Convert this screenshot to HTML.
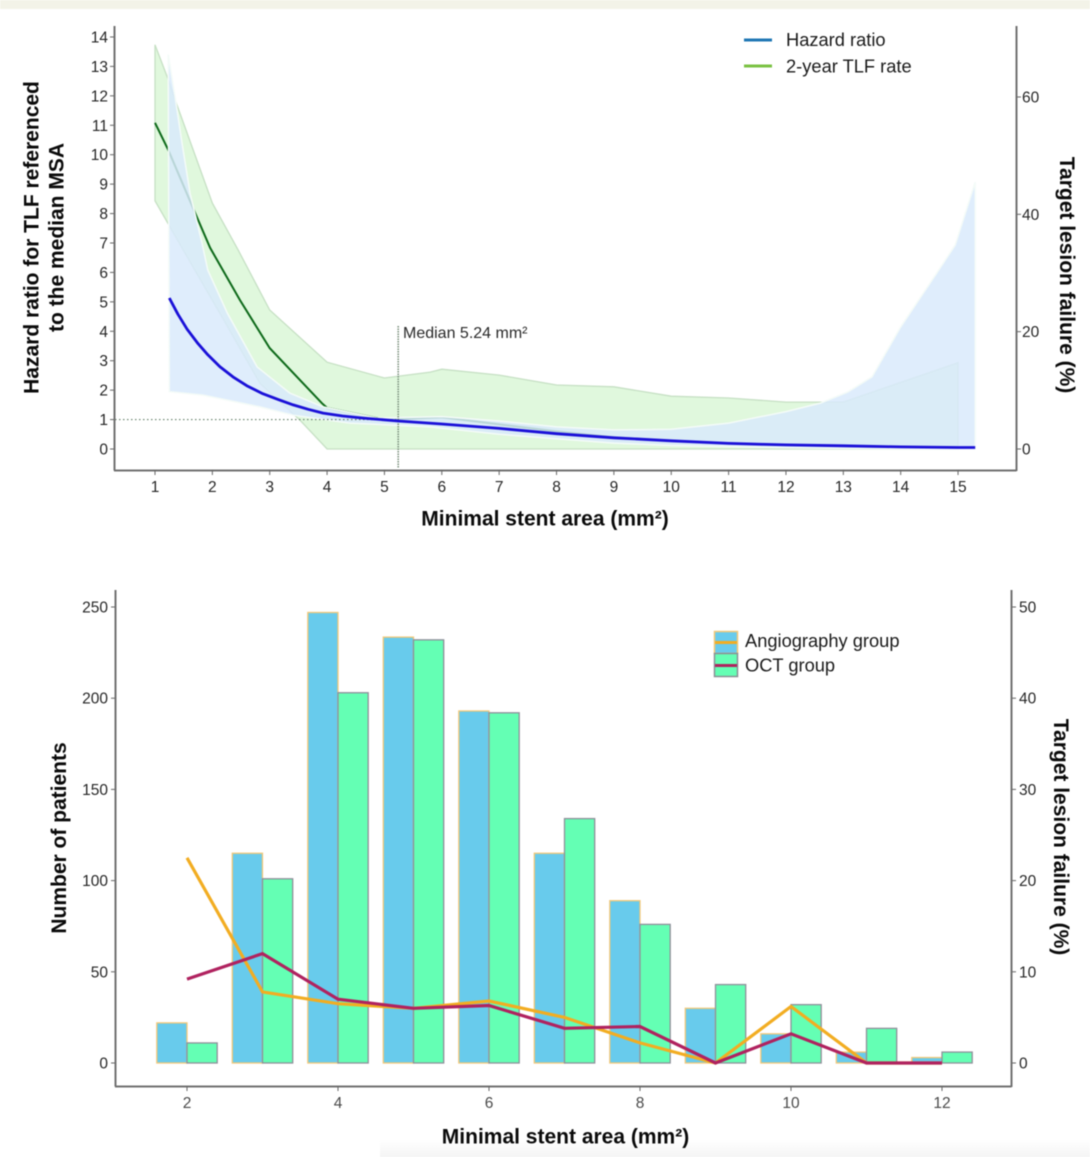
<!DOCTYPE html>
<html lang="en">
<head>
<meta charset="utf-8">
<title>Minimal stent area charts</title>
<style>
html,body{margin:0;padding:0;background:#fff;}
body{width:1090px;height:1157px;overflow:hidden;position:relative;font-family:"Liberation Sans",sans-serif;}
svg{position:absolute;left:0;top:0;filter:blur(0.4px);}
text{font-family:"Liberation Sans",sans-serif;}
.title{font-weight:700;font-size:21px;fill:#0a0a0a;text-anchor:middle;}
.tick{font-size:15.5px;fill:#262626;}
.legend{font-size:18.3px;fill:#1a1a1a;}
</style>
</head>
<body>
<svg id="fig" width="1090" height="1157" viewBox="0 0 1090 1157" xmlns="http://www.w3.org/2000/svg">
  <defs>
    <linearGradient id="fade" x1="0" y1="0" x2="0" y2="1">
      <stop offset="0" stop-color="#f4f4f4" stop-opacity="0"/>
      <stop offset="1" stop-color="#f4f4f4" stop-opacity="1"/>
    </linearGradient>
  </defs>
  <rect x="0" y="0" width="1090" height="9" fill="#f3f3e8"/>
  <rect x="380" y="1140" width="710" height="17" fill="url(#fade)"/>

  <g id="top-marks"></g>
  <g id="top-axes">
    <path d="M114.500 26V470.500" stroke="#707070" stroke-width="2" fill="none"/>
    <path d="M114 470.500H1016.500" stroke="#707070" stroke-width="2" fill="none"/>
    <path d="M1016.500 26V471" stroke="#707070" stroke-width="2" fill="none"/>
  </g>
  <text class="title" transform="translate(38.500,237.500) rotate(-90)">Hazard ratio for TLF referenced</text>
  <text class="title" transform="translate(63.500,237.500) rotate(-90)">to the median MSA</text>
  <text class="title" transform="translate(1060,275) rotate(90)">Target lesion failure (%)</text>
  <text class="title" x="545" y="525.500">Minimal stent area (mm²)</text>
  <text x="403" y="338" font-size="16" fill="#2a2a2a">Median 5.24 mm²</text>
  <path d="M744 40H772" stroke="#1f77b4" stroke-width="3"/>
  <text class="legend" x="786" y="46">Hazard ratio</text>
  <path d="M744 66H772" stroke="#7ac143" stroke-width="3"/>
  <text class="legend" x="786" y="72.500">2-year TLF rate</text>

  <g id="bottom-marks"></g>
  <g id="bottom-axes">
    <path d="M115.500 590V1086.500" stroke="#707070" stroke-width="2" fill="none"/>
    <path d="M115 1086.500H1011.500" stroke="#707070" stroke-width="2" fill="none"/>
    <path d="M1011.500 590V1087" stroke="#707070" stroke-width="2" fill="none"/>
  </g>
  <text class="title" transform="translate(66,838) rotate(-90)">Number of patients</text>
  <text class="title" transform="translate(1054,837) rotate(90)">Target lesion failure (%)</text>
  <text class="title" x="565.500" y="1143.500">Minimal stent area (mm²)</text>
  <rect x="714.500" y="631.500" width="23" height="22" fill="#68cbec" stroke="#f2c879" stroke-width="1.500"/>
  <path d="M715 642.500H737" stroke="#f2ad22" stroke-width="3"/>
  <rect x="714.500" y="653.500" width="23" height="23" fill="#64ffb4" stroke="#8a8f95" stroke-width="1.500"/>
  <path d="M715 665.500H737" stroke="#b0225f" stroke-width="3"/>
  <text class="legend" x="745" y="647">Angiography group</text>
  <text class="legend" x="745" y="671.500">OCT group</text>
</svg>

<script>
// ---- top chart data ----
const topXTicks = [1,2,3,4,5,6,7,8,9,10,11,12,13,14,15];
const hrTicks = [0,1,2,3,4,5,6,7,8,9,10,11,12,13,14];
const tlfTicks = [0,20,40,60];
const medianMsa = 5.24;
const referenceHr = 1;

const hrX = [1.25,1.4,1.56,1.75,1.92,2.13,2.36,2.6,2.88,3.15,3.41,3.67,3.93,4.27,4.63,5.24,6,7,8,9,10,11,12,13,14,15,15.3];
const hrMid = [5.13,4.58,4.07,3.58,3.2,2.8,2.45,2.15,1.88,1.68,1.5,1.35,1.22,1.12,1.05,0.95,0.85,0.7,0.52,0.38,0.28,0.19,0.14,0.11,0.07,0.05,0.05];

const hrUpperX = [1.23,1.35,1.47,1.61,1.82,1.92,2.26,2.78,3.35,3.93,4.87,6,7,8,9,10,11,12,12.6,13.08,13.5,14,14.63,14.95,15.3];
const hrUpper = [13.4,11.96,10.4,8.7,7,6.08,4.62,2.79,1.9,1.43,1.05,1.1,0.95,0.75,0.65,0.67,0.88,1.27,1.56,1.94,2.45,4.15,5.98,6.93,9.07];
const hrLowerX = [1.25,1.84,2.83,3.41,4.4,5.8,7,8,9,10,11,12,13,15,15.3];
const hrLower = [1.95,1.83,1.43,1.15,0.88,0.75,0.5,0.35,0.2,0.12,0.08,0.04,0.02,0,0];

const tlfX = [1,1.23,1.7,1.96,2.48,3,3.91,4,5,6,7,8,9,10,11,12,13,14,15];
const tlfMid = [55.6,51,40.2,34.3,25.4,17.2,7.8,7,5,5.4,4.2,3,2,1.4,1,0.7,0.5,0.2,0.1];
const tlfUpperX = [1,1.23,1.37,2,2.45,3,4,5,5.8,6,7,8,9,10,11,12,13,15];
const tlfUpper = [68.9,63,59,41.9,33.9,23.7,14.8,12.1,13.1,13.6,12.6,10.9,10.6,9,8.7,8,8,14.7];
const tlfLowerX = [1,1.47,2.17,2.83,3.53,4,15];
const tlfLower = [42.3,34.3,22.5,11.2,4.9,0,0];

// ---- bottom chart data ----
const areas = [2,3,4,5,6,7,8,9,10,11,12];
const botXTicks = [2,4,6,8,10,12];
const patientTicks = [0,50,100,150,200,250];
const failureTicks = [0,10,20,30,40,50];
const angioPatients = [22,115,247,233.5,193,115,89,30,16,6,3];
const octPatients = [11,101,203,232,192,134,76,43,32,19,6];
const angioFailure = [22.5,7.8,6.5,6,6.8,5,2.2,0,6.2,0,0];
const octFailure = [9.2,12,7,6,6.3,3.8,4,0,3.2,0,0];

// ---- axis functions ----
const topX = v => 155 + (v - 1) * 57.36;
const topHr = v => 449 - v * 29.43;
const topTlf = v => 449 - v * 5.867;
const botX = v => 187 + (v - 2) * 75.5;
const botCount = v => 1063 - v * 1.824;
const botPct = v => 1063 - v * 9.12;

const NS = 'http://www.w3.org/2000/svg';
const topMarks = document.getElementById('top-marks');
const topAxes = document.getElementById('top-axes');
const botMarks = document.getElementById('bottom-marks');
const botAxes = document.getElementById('bottom-axes');

function make(parent, tag, attrs) {
  const e = document.createElementNS(NS, tag);
  for (const k in attrs) e.setAttribute(k, attrs[k]);
  parent.appendChild(e);
  return e;
}
function linePath(xs, ys, fx, fy) {
  return xs.map((x, i) => (i ? 'L' : 'M') + fx(x).toFixed(1) + ' ' + fy(ys[i]).toFixed(1)).join('');
}
function bandPath(ux, u, lx, l, fx, fy) {
  let d = linePath(ux, u, fx, fy);
  for (let i = lx.length - 1; i >= 0; i--) d += 'L' + fx(lx[i]).toFixed(1) + ' ' + fy(l[i]).toFixed(1);
  return d + 'Z';
}

// TLF band and line sit under the hazard band
const tlfBand = make(topMarks, 'path', {d: bandPath(tlfUpperX, tlfUpper, tlfLowerX, tlfLower, topX, topTlf), fill: '#e0f8dd', stroke: '#c6e0c4', 'stroke-width': 1.3});



const tlfLine = make(topMarks, 'path', {d: linePath(tlfX, tlfMid, topX, topTlf), fill: 'none', stroke: '#0e6a1a', 'stroke-width': 2});



const hrBand = make(topMarks, 'path', {d: bandPath(hrUpperX, hrUpper, hrLowerX, hrLower, topX, topHr), fill: '#d9e9fb', 'fill-opacity': 0.84, stroke: '#f4fbf8', 'stroke-width': 1.5});



const refLine = make(topMarks, 'line', {x1: 115, x2: topX(medianMsa), y1: topHr(referenceHr), y2: topHr(referenceHr), stroke: '#66806a', 'stroke-width': 1.2, 'stroke-dasharray': '1.500 2.500'});



const medLine = make(topMarks, 'line', {x1: topX(medianMsa), x2: topX(medianMsa), y1: 326, y2: 468, stroke: '#7d927f', 'stroke-width': 1.6, 'stroke-dasharray': '1.500 1'});



const hrLine = make(topMarks, 'path', {d: linePath(hrX, hrMid, topX, topHr), fill: 'none', stroke: '#1a10d8', 'stroke-width': 2.8, 'stroke-linejoin': 'round'});



// top ticks
topXTicks.forEach(v => {
  const t = make(topAxes, 'line', {x1: topX(v), x2: topX(v), y1: 470, y2: 475, stroke: '#666', 'stroke-width': 1});
  
  
  const l = make(topAxes, 'text', {x: topX(v), y: 492, 'text-anchor': 'middle', class: 'tick'});
  l.textContent = v;
  
  
});
hrTicks.forEach(v => {
  const t = make(topAxes, 'line', {x1: 110, x2: 114, y1: topHr(v), y2: topHr(v), stroke: '#666', 'stroke-width': 1});
  
  
  const l = make(topAxes, 'text', {x: 108, y: topHr(v) + 5.5, 'text-anchor': 'end', class: 'tick'});
  l.textContent = v;
  
  
});
tlfTicks.forEach(v => {
  const t = make(topAxes, 'line', {x1: 1017, x2: 1021, y1: topTlf(v), y2: topTlf(v), stroke: '#666', 'stroke-width': 1});
  
  
  const l = make(topAxes, 'text', {x: 1022, y: topTlf(v) + 5.5, class: 'tick'});
  l.textContent = v;
  
  
});

// bars
const barUnits = 0.4;
areas.forEach((a, i) => {
  const w = botX(a) - botX(a - barUnits);
  const b1 = make(botMarks, 'rect', {x: botX(a - barUnits), y: botCount(angioPatients[i]), width: w, height: botCount(0) - botCount(angioPatients[i]), fill: '#68cbec', stroke: '#f2c879', 'stroke-width': 1.3});
  
  
});
areas.forEach((a, i) => {
  const w = botX(a + barUnits) - botX(a);
  const b2 = make(botMarks, 'rect', {x: botX(a), y: botCount(octPatients[i]), width: w, height: botCount(0) - botCount(octPatients[i]), fill: '#64ffb4', stroke: '#8f8f9a', 'stroke-width': 1.3});
  
  
});

const angioLine = make(botMarks, 'path', {d: linePath(areas, angioFailure, botX, botPct), fill: 'none', stroke: '#f2ad22', 'stroke-width': 3.2});



const octLine = make(botMarks, 'path', {d: linePath(areas, octFailure, botX, botPct), fill: 'none', stroke: '#b0225f', 'stroke-width': 3.2});



// bottom ticks
botXTicks.forEach(v => {
  const t = make(botAxes, 'line', {x1: botX(v), x2: botX(v), y1: 1086, y2: 1091, stroke: '#666', 'stroke-width': 1});
  
  
  const l = make(botAxes, 'text', {x: botX(v), y: 1108, 'text-anchor': 'middle', class: 'tick', style: 'fill:#4a4a4a'});
  l.textContent = v;
  
  
});
patientTicks.forEach(v => {
  const t = make(botAxes, 'line', {x1: 111, x2: 115, y1: botCount(v), y2: botCount(v), stroke: '#666', 'stroke-width': 1});
  
  
  const l = make(botAxes, 'text', {x: 108, y: botCount(v) + 5.5, 'text-anchor': 'end', class: 'tick'});
  l.textContent = v;
  
  
});
failureTicks.forEach(v => {
  const t = make(botAxes, 'line', {x1: 1012, x2: 1016, y1: botPct(v), y2: botPct(v), stroke: '#666', 'stroke-width': 1});
  
  
  const l = make(botAxes, 'text', {x: 1019, y: botPct(v) + 5.5, class: 'tick'});
  l.textContent = v;
  
  
});
</script>
</body>
</html>
